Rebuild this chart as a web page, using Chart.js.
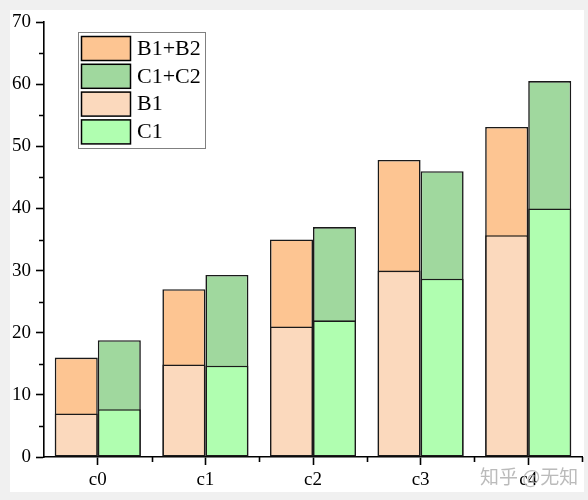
<!DOCTYPE html>
<html>
<head>
<meta charset="utf-8">
<script src="https://cdn.jsdelivr.net/npm/chart.js@4.4.1/dist/chart.umd.min.js"></script>
<style>
  html, body { margin: 0; padding: 0; background: #f0f0f0; }
  #wrap { position: absolute; left: 10px; top: 10px; width: 574px; height: 482px; background: #fff; }
</style>
</head>
<body>
<div id="wrap"><canvas id="grafico"></canvas></div>
<script>
// categorias e valores
const categorias = ['c0', 'c1', 'c2', 'c3', 'c4'];
const totalB = [16.0, 27.0, 35.0, 47.8, 53.1];   // B1+B2
const totalC = [18.8, 29.3, 37.0, 46.0, 60.5];   // C1+C2
const serieB1 = [7.0, 14.9, 21.0, 30.0, 35.7];
const serieC1 = [7.7, 14.7, 22.0, 28.7, 40.0];
const ticksMenores = [5, 15, 25, 35, 45, 55, 65];

const fonte = '"Liberation Serif", "Times New Roman", serif';
const borda = '#1a1a1a';

// legenda dentro da área + ticks menores + marca d'água
const extras = {
  id: 'extras',
  afterDraw(chart) {
    const ctx = chart.ctx;
    const y = chart.scales.y;
    const x = chart.scales.x;
    ctx.save();
    ctx.strokeStyle = '#000';
    ctx.lineWidth = 1.6;
    ctx.beginPath();
    ticksMenores.forEach(v => {
      const py = Math.round(y.getPixelForValue(v)) + 0.5;
      ctx.moveTo(x.left - 5, py);
      ctx.lineTo(x.left, py);
    });
    for (let i = 1; i < categorias.length + 1; i++) {
      const px = Math.round((x.getPixelForValue(i - 1) + x.getPixelForValue(i)) / 2) + 0.5;
      ctx.moveTo(px, y.bottom);
      ctx.lineTo(px, y.bottom + 5);
    }
    ctx.stroke();

    // legenda
    const ds = chart.data.datasets;
    ctx.fillStyle = '#fff';
    ctx.fillRect(68, 22, 127, 116);
    ctx.strokeStyle = '#808080';
    ctx.lineWidth = 1;
    ctx.strokeRect(68.5, 22.5, 127, 116);
    ds.forEach((d, i) => {
      const top = 26 + i * 27.8;
      ctx.fillStyle = d.backgroundColor;
      ctx.fillRect(71, top, 49, 24);
      ctx.strokeStyle = '#000';
      ctx.lineWidth = 1.5;
      ctx.strokeRect(71.5, top + 0.5, 49, 24);
      ctx.fillStyle = '#000';
      ctx.font = '22px ' + fonte;
      ctx.textBaseline = 'middle';
      ctx.textAlign = 'left';
      ctx.fillText(d.label, 127, top + 13);
    });

    // marca d'água
    ctx.fillStyle = 'rgba(175,175,175,0.85)';
    ctx.font = '19px "Noto Sans CJK SC"';
    ctx.textBaseline = 'alphabetic';
    ctx.fillText('知乎 @无知', 470, 474);
    ctx.restore();
  }
};

new Chart(document.getElementById('grafico'), {
  type: 'bar',
  data: {
    labels: categorias,
    datasets: [
      { label: 'B1+B2', data: totalB, stack: 'B', order: 2, backgroundColor: '#fdc592' },
      { label: 'C1+C2', data: totalC, stack: 'C', order: 2, backgroundColor: '#a0d89e' },
      { label: 'B1', data: serieB1, stack: 'B', order: 1, backgroundColor: '#fbd9bd' },
      { label: 'C1', data: serieC1, stack: 'C', order: 1, backgroundColor: '#b0feb0' }
    ].map(d => Object.assign(d, {
      borderColor: borda,
      borderWidth: 1.6,
      borderSkipped: false,
      categoryPercentage: 0.8,
      barPercentage: 1.0
    }))
  },
  options: {
    responsive: true,
    maintainAspectRatio: false,
    animation: false,
    layout: { padding: { top: 12, right: 2, left: 0, bottom: 0 } },
    plugins: {
      legend: { display: false },
      tooltip: { enabled: false }
    },
    scales: {
      x: {
        stacked: true,
        grid: { drawOnChartArea: false, offset: false, tickLength: 8, tickColor: '#000', tickWidth: 1.6 },
        border: { display: true, color: '#000', width: 1.6 },
        ticks: { color: '#000', font: { family: fonte, size: 19 }, padding: 4 },
        afterFit: s => { s.height = 35; s.paddingLeft = 0; s.paddingRight = 0; }
      },
      y: {
        stacked: false,
        min: 0,
        max: 70,
        grid: { drawOnChartArea: false, tickLength: 8, tickColor: '#000', tickWidth: 1.6 },
        border: { display: true, color: '#000', width: 1.6 },
        ticks: { stepSize: 10, color: '#000', font: { family: fonte, size: 19 }, padding: 5 },
        afterFit: s => { s.width = 34; s.paddingTop = 0; s.paddingBottom = 0; }
      }
    }
  },
  plugins: [extras]
});
</script>
</body>
</html>
